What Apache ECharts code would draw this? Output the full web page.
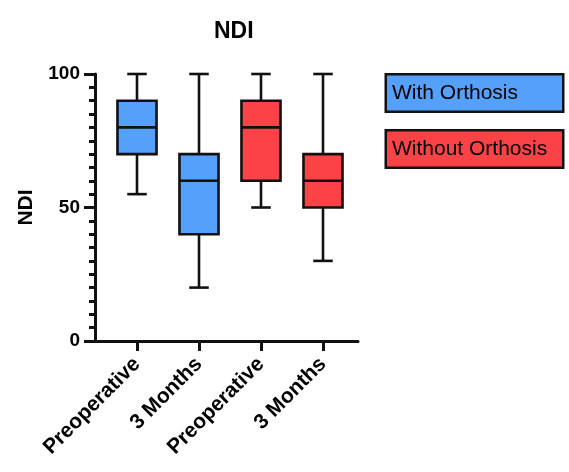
<!DOCTYPE html>
<html>

<head>
    <meta charset="utf-8">
    <script src="https://cdn.jsdelivr.net/npm/echarts@6/dist/echarts.min.js"></script>
</head>
<style>
    * {
        margin: 0;
        padding: 0;
    }

    .box {
        width: 569px;
        height: 472px;
        position: absolute;
        background: #fff;
    }
</style>

<body>
    <div class="box"></div>

    <script type="text/javascript">
        // 数据: [min, Q1, median, Q3, max]
        var categories = ['Preoperative', '3 Months', 'Preoperative', '3 Months'];
        var withOrthosis = [
            [55, 70, 80, 90, 100],
            [20, 40, 60, 70, 100]
        ];
        var withoutOrthosis = [
            [50, 60, 80, 90, 100],
            [30, 50, 60, 70, 100]
        ];
        var yTicks = [0, 50, 100];

        var FONT = '"Liberation Sans", Arial, sans-serif';

        // 给每个箱子加上类别序号
        var toData = function(boxes, start) {
            var res = [];
            for (var i = 0; i < boxes.length; i++) {
                res.push([start + i].concat(boxes[i]));
            }
            return res;
        };

        var renderBox = function(params, api) {
            var x = api.value(0);
            var lo = api.coord([x, api.value(1)]);
            var q1 = api.coord([x, api.value(2)]);
            var md = api.coord([x, api.value(3)]);
            var q3 = api.coord([x, api.value(4)]);
            var hi = api.coord([x, api.value(5)]);
            var bw = api.size([1, 0])[0] * 0.63;
            var cap = bw * 0.5;
            var cx = lo[0];
            var ln = { stroke: '#111', lineWidth: 2.6 };
            return {
                type: 'group',
                children: [
                    { type: 'line', shape: { x1: cx, y1: hi[1], x2: cx, y2: q3[1] }, style: ln },
                    { type: 'line', shape: { x1: cx, y1: q1[1], x2: cx, y2: lo[1] }, style: ln },
                    { type: 'line', shape: { x1: cx - cap / 2, y1: hi[1], x2: cx + cap / 2, y2: hi[1] }, style: ln },
                    { type: 'line', shape: { x1: cx - cap / 2, y1: lo[1], x2: cx + cap / 2, y2: lo[1] }, style: ln },
                    {
                        type: 'rect',
                        shape: { x: cx - bw / 2, y: q3[1], width: bw, height: q1[1] - q3[1] },
                        style: { fill: api.visual('color'), stroke: '#111', lineWidth: 2.6 }
                    },
                    { type: 'line', shape: { x1: cx - bw / 2, y1: md[1], x2: cx + bw / 2, y2: md[1] }, style: ln }
                ]
            };
        };

        var myChart = echarts.init(document.getElementsByClassName('box')[0]);

        var legendText = {
            fontFamily: FONT,
            fontSize: 21,
            color: '#000',
            borderColor: '#111',
            borderWidth: 2.5,
            padding: [6, 5],
            width: 165,
            lineHeight: 23
        };

        option = {
            backgroundColor: '#fff',
            animation: false,
            title: {
                text: 'NDI',
                left: 209,
                top: 15,
                textStyle: { fontFamily: FONT, fontSize: 23, fontWeight: 'bold', color: '#000' }
            },
            legend: {
                orient: 'vertical',
                left: 377,
                top: 68,
                itemWidth: 0,
                itemHeight: 0,
                itemGap: 16,
                icon: 'none',
                selectedMode: false,
                data: [
                    { name: 'With Orthosis', textStyle: Object.assign({ backgroundColor: '#55A0FB' }, legendText) },
                    { name: 'Without Orthosis', textStyle: Object.assign({ backgroundColor: '#FB4247' }, legendText) }
                ]
            },
            grid: [
                { left: 95, top: 74, width: 263, height: 267 },
                { left: 106, top: 74, width: 248, height: 267 }
            ],
            xAxis: [{
                gridIndex: 0,
                type: 'category',
                data: categories,
                axisLine: { lineStyle: { color: '#111', width: 3 } },
                axisTick: { show: false },
                axisLabel: { show: false }
            }, {
                gridIndex: 1,
                type: 'category',
                data: categories,
                axisLine: { show: false },
                axisTick: { show: true, alignWithLabel: true, interval: 0, length: 10, lineStyle: { color: '#111', width: 3 } },
                axisLabel: {
                    interval: 0,
                    rotate: 45,
                    margin: 20,
                    fontFamily: FONT,
                    fontSize: 21,
                    fontWeight: 'bold',
                    color: '#000'
                }
            }],
            yAxis: [{
                gridIndex: 0,
                type: 'value',
                min: yTicks[0],
                max: yTicks[yTicks.length - 1],
                interval: 50,
                name: 'NDI',
                nameLocation: 'middle',
                nameGap: 58,
                nameTextStyle: { fontFamily: FONT, fontSize: 21, fontWeight: 'bold', color: '#000' },
                axisLine: { show: true, lineStyle: { color: '#111', width: 3 } },
                axisTick: { show: true, length: 11, lineStyle: { color: '#111', width: 3 } },
                minorTick: { show: true, splitNumber: 10, length: 6, lineStyle: { color: '#111', width: 3 } },
                splitLine: { show: false },
                axisLabel: { margin: 15, fontFamily: FONT, fontSize: 19, fontWeight: 'bold', color: '#000' }
            }, {
                gridIndex: 1,
                type: 'value',
                min: yTicks[0],
                max: yTicks[yTicks.length - 1],
                show: false
            }],
            series: [{
                name: 'With Orthosis',
                type: 'custom',
                xAxisIndex: 1,
                yAxisIndex: 1,
                itemStyle: { color: '#55A0FB' },
                encode: { x: 0, y: [1, 2, 3, 4, 5] },
                renderItem: renderBox,
                data: toData(withOrthosis, 0)
            }, {
                name: 'Without Orthosis',
                type: 'custom',
                xAxisIndex: 1,
                yAxisIndex: 1,
                itemStyle: { color: '#FB4247' },
                encode: { x: 0, y: [1, 2, 3, 4, 5] },
                renderItem: renderBox,
                data: toData(withoutOrthosis, 2)
            }]
        };

        myChart.setOption(option);
    </script>
</body>

</html>
